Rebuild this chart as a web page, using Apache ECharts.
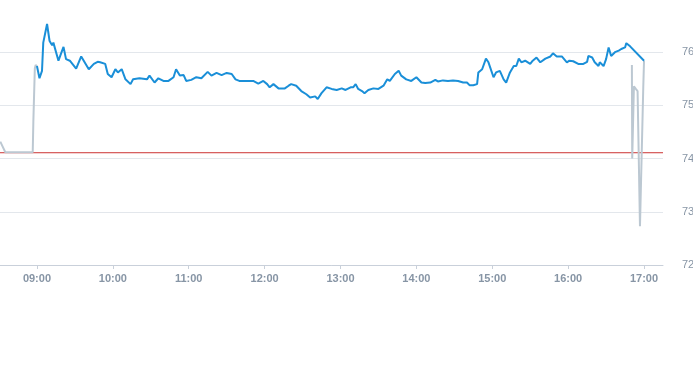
<!DOCTYPE html>
<html>
<head>
<meta charset="utf-8">
<script src="https://cdn.jsdelivr.net/npm/echarts@6/dist/echarts.min.js"></script>
<style>html,body{margin:0;padding:0;background:#fff;}#c{width:693px;height:365px;}</style>
</head>
<body>
<div id="c"></div>
<script>
const xTickLabels = ['09:00','10:00','11:00','12:00','13:00','14:00','15:00','16:00','17:00'];
const yTicks = [72, 73, 74, 75, 76];
const prevClose = 74.11;

const blueTimes = ['09:00','09:02','09:04','09:05','09:06','09:08','09:10','09:12','09:13','09:17','09:21','09:23','09:26','09:31','09:35','09:41','09:45','09:48','09:50','09:54','09:56','09:59',
'10:02','10:04','10:07','10:10','10:14','10:16','10:21','10:27','10:29','10:33','10:36','10:40','10:44','10:48','10:50','10:53','10:56','10:58',
'11:02','11:06','11:10','11:15','11:18','11:22','11:26','11:30','11:34','11:37','11:40','11:46','11:51','11:55','11:59',
'12:02','12:04','12:07','12:11','12:16','12:19','12:21','12:25','12:29','12:33','12:36','12:40','12:42','12:45','12:49','12:53','12:57',
'13:01','13:04','13:08','13:10','13:12','13:14','13:17','13:19','13:22','13:26','13:30','13:34','13:37','13:39','13:43','13:46','13:48','13:52','13:56',
'14:00','14:04','14:07','14:11','14:15','14:17','14:21','14:25','14:29','14:33','14:37','14:40','14:42','14:45','14:48','14:49','14:52','14:53','14:55','14:57',
'15:01','15:03','15:06','15:09','15:11','15:14','15:17','15:19','15:21','15:23','15:26','15:30','15:32','15:35','15:38','15:42','15:46','15:48','15:51','15:55','15:59',
'16:01','16:04','16:08','16:12','16:15','16:16','16:19','16:21','16:24','16:25','16:28','16:30','16:32','16:34','16:37','16:40','16:42','16:45','16:46','16:49','17:00'];
const blueValues = [75.74,75.51,75.65,76.18,76.21,76.53,76.21,76.13,76.18,75.84,76.10,75.87,75.84,75.69,75.92,75.68,75.78,75.82,75.81,75.78,75.59,75.53,
75.68,75.62,75.68,75.49,75.40,75.49,75.51,75.49,75.56,75.43,75.51,75.46,75.46,75.53,75.68,75.56,75.57,75.46,
75.48,75.53,75.51,75.63,75.56,75.61,75.57,75.61,75.59,75.49,75.46,75.46,75.46,75.41,75.46,
75.40,75.34,75.40,75.32,75.32,75.37,75.40,75.37,75.27,75.21,75.15,75.17,75.12,75.23,75.34,75.31,75.29,
75.32,75.29,75.34,75.34,75.40,75.31,75.27,75.23,75.29,75.32,75.31,75.37,75.49,75.46,75.59,75.65,75.56,75.49,75.46,
75.53,75.43,75.42,75.43,75.48,75.45,75.47,75.46,75.47,75.46,75.43,75.43,75.38,75.38,75.40,75.62,75.68,75.65,75.88,75.81,
75.53,75.62,75.65,75.49,75.43,75.62,75.74,75.74,75.88,75.81,75.84,75.78,75.84,75.90,75.81,75.88,75.92,75.98,75.92,75.92,75.81,
75.84,75.83,75.78,75.78,75.82,75.93,75.90,75.81,75.74,75.81,75.74,75.87,76.09,75.93,76.00,76.03,76.06,76.09,76.17,76.11,75.84];

const greyTimes = ['08:31','08:35','08:56:40','08:57:10','08:57:50','08:58:20','08:59:00','09:00',
'12:00',
'16:50:24','16:50:40','16:52:00','16:53:30','16:54:54','16:56:00','16:56:48','16:59:24','17:00'];
const greyValues = [74.32,74.12,74.12,74.70,74.72,75.70,75.76,75.74,
null,
75.76,74.00,75.36,75.31,75.27,75.27,72.73,75.34,75.84];

const xStart = '08:30', xEnd = '17:15';

function toMin(t){const p=t.split(':').map(Number);return p[0]*60+p[1]+(p[2]||0)/60;}
function fmt(m){const h=Math.floor(m/60),mm=Math.round(m-h*60);return (h<10?'0':'')+h+':'+(mm<10?'0':'')+mm;}

const blueData = blueTimes.map((t,i)=>[toMin(t), blueValues[i]]);
const greyData = greyTimes.map((t,i)=>[toMin(t), greyValues[i]]);
const xTickValues = xTickLabels.map(toMin);
const refData = [[toMin(xStart), prevClose],[toMin(xEnd), prevClose]];

const chart = echarts.init(document.getElementById('c'));
chart.setOption({
  animation:false,
  grid:{left:-1,right:30,top:-1,bottom:100,containLabel:false,outerBoundsMode:'none'},
  xAxis:{
    type:'value', min:toMin(xStart), max:toMin(xEnd),
    axisLine:{show:true,lineStyle:{color:'#c9d0da',width:1}},
    axisTick:{show:true,customValues:xTickValues,length:4,lineStyle:{color:'#c9d0da'}},
    axisLabel:{customValues:xTickValues,formatter:v=>fmt(v),color:'#8795a5',fontWeight:'bold',fontSize:11,fontFamily:'sans-serif',margin:8},
    splitLine:{show:false}
  },
  yAxis:{
    type:'value', position:'right', min:yTicks[0], max:77, interval:1,
    axisLine:{show:false}, axisTick:{show:false},
    axisLabel:{color:'#8795a5',fontSize:11,fontFamily:'sans-serif',margin:19,showMaxLabel:false},
    splitLine:{lineStyle:{color:'#e3e7ec',width:1}}
  },
  series:[
    {type:'line',data:refData,showSymbol:false,symbol:'none',silent:true,z:1,
     lineStyle:{color:'#cc3333',width:1},itemStyle:{color:'#cc3333'}},
    {type:'line',data:greyData,showSymbol:false,symbol:'none',connectNulls:false,z:2,
     lineStyle:{color:'#bcc8d2',width:2},itemStyle:{color:'#bcc8d2'}},
    {type:'line',data:blueData,showSymbol:false,symbol:'none',z:3,
     lineStyle:{color:'#1a8fd8',width:2},itemStyle:{color:'#1a8fd8'}}
  ]
});
</script>
</body>
</html>
